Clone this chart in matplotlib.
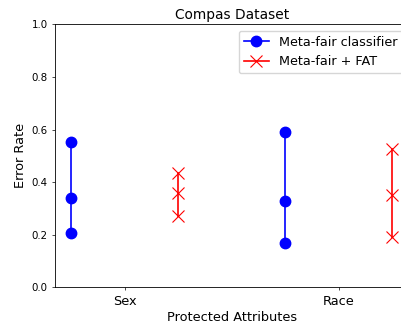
import matplotlib
matplotlib.use('Agg')
import matplotlib.pyplot as plt

# Error rates per protected attribute: low / mid / high
attributes = ['Sex', 'Race']
meta_fair_low = [0.208, 0.167]
meta_fair_mid = [0.338, 0.329]
meta_fair_high = [0.552, 0.590]
fat_low = [0.271, 0.192]
fat_mid = [0.360, 0.351]
fat_high = [0.436, 0.525]

fig = plt.figure(figsize=(4.01, 3.24), dpi=100)
# right edge of the axes runs past the figure, like the cropped original
ax = fig.add_axes([55/401, (324-287.3)/324, (409.5-55)/401, (287.3-24.3)/324])

for i in range(len(attributes)):
    ax.plot([i-0.25]*3, [meta_fair_low[i], meta_fair_mid[i], meta_fair_high[i]],
            'o-', color='blue', markersize=7.5, linewidth=1.2,
            label='Meta-fair classifier' if i == 0 else None)
    ax.plot([i+0.25]*3, [fat_low[i], fat_mid[i], fat_high[i]],
            'x-', color='red', markersize=8.5, linewidth=1.2, markeredgewidth=0.8,
            label='Meta-fair + FAT' if i == 0 else None)

ax.set_xlim(-0.327, 1.33)
ax.set_ylim(0, 1.0)
ax.set_xticks(range(len(attributes)))
ax.set_xticklabels(attributes, fontsize=9.3)
ax.set_yticks([0, 0.2, 0.4, 0.6, 0.8, 1.0])
ax.tick_params(axis='y', labelsize=7.4, pad=3)
ax.tick_params(axis='x', pad=3.5)
ax.tick_params(length=2.2, width=0.5)
for s in ax.spines.values():
    s.set_linewidth(0.6)
ax.set_xlabel('Protected Attributes', fontsize=9.3, labelpad=2)
ax.set_ylabel('Error Rate', fontsize=9.3, labelpad=3)
ax.set_title('Compas Dataset', fontsize=9.9, pad=4)
ax.legend(loc='upper right', fontsize=9.2, handlelength=2.0, borderpad=0.4,
          framealpha=0.8)

fig.savefig('out.png', dpi=100)
